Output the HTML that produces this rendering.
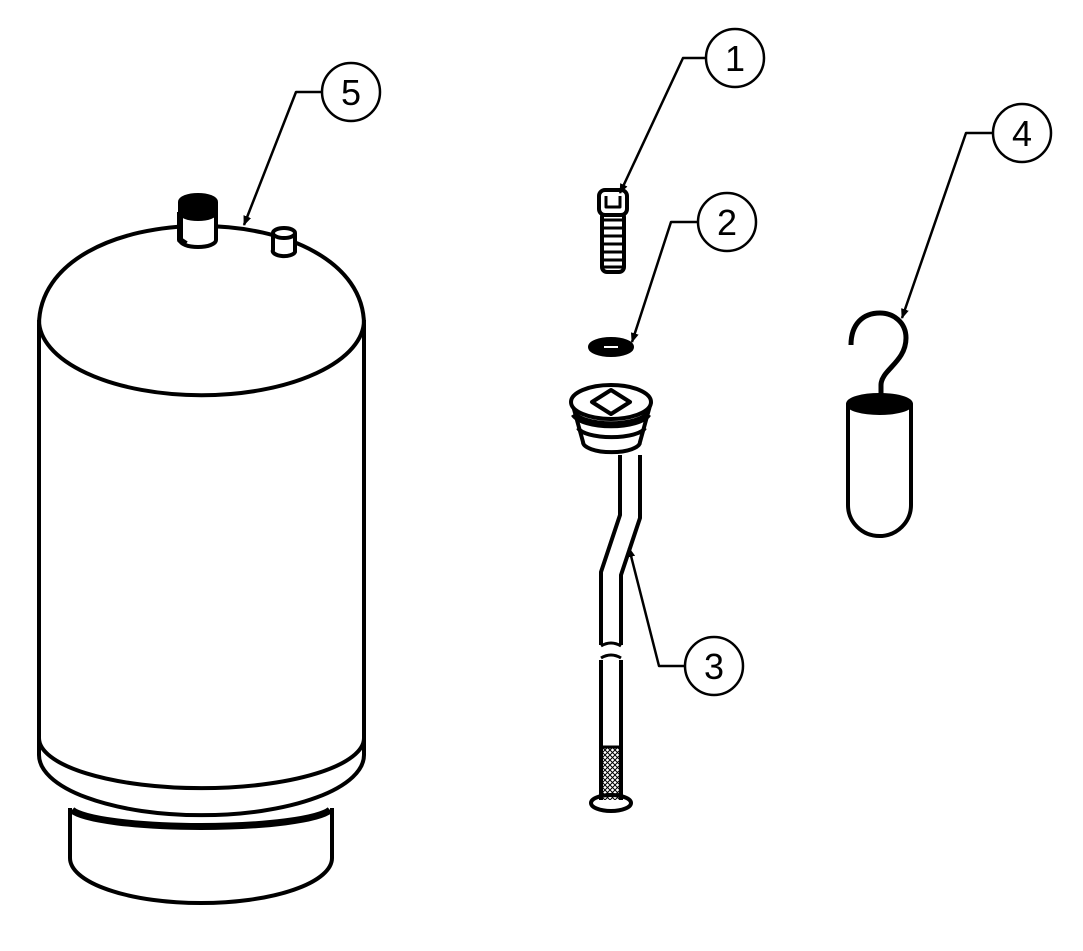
<!DOCTYPE html><html><head><style>body{margin:0;background:#fff}svg{display:block}</style></head><body>
<svg width="1083" height="951" viewBox="0 0 1083 951" xmlns="http://www.w3.org/2000/svg">
<defs>
<marker id="a" markerWidth="10" markerHeight="10" refX="9" refY="5" orient="auto" markerUnits="userSpaceOnUse"><path d="M0,1 L10,5 L0,9 Z" fill="#000"/></marker>
<pattern id="m" width="5" height="5" patternUnits="userSpaceOnUse"><path d="M0,0L5,5M5,0L0,5" stroke="#000" stroke-width="1"/></pattern>
</defs>
<g fill="none" stroke="#000" stroke-width="4" stroke-linejoin="round">
<!-- tank -->
<path d="M70,808 L70,858 A131,45 0 0 0 332,858 L332,808" fill="#fff"/>
<path d="M39,325 C39,262 115,226 201,226 C287,226 364,262 364,325 L364,755 A162,60 0 0 1 39,755 Z" fill="#fff"/>
<path d="M39,320 A162,75 0 0 0 364,320"/>
<path d="M39,738 A162,50 0 0 0 364,738"/>
<path d="M72,810 A131,20 0 0 0 330,810" stroke-width="7"/>
<!-- fittings -->
<path d="M180,202 L180,240 A18,7 0 0 0 216,240 L216,202" fill="#fff"/>
<path d="M180,202 A18,7 0 0 1 216,202 L216,212 A18,7 0 0 1 180,212 Z" fill="#000"/>
<path d="M180,212 L180,240 L186,244" stroke-width="6"/>
<path d="M273,233 L273,250 A11,5 0 0 0 295,252 L295,233" fill="#fff"/>
<ellipse cx="284" cy="233" rx="11" ry="5" fill="#fff"/>
<!-- screw -->
<rect x="602" y="212" width="22" height="60" rx="5" fill="#fff"/>
<g stroke="#000" stroke-width="3"><path d="M604,220h18M604,228h18M604,236h18M604,244h18M604,252h18M604,260h18M604,267h18"/></g>
<rect x="599" y="190" width="28" height="25" rx="6" fill="#fff"/>
<path d="M606,196 L606,207 L620,207 L620,196" stroke-width="3"/>
<!-- washer -->
<ellipse cx="611" cy="347" rx="21" ry="8" fill="#000"/>
<path d="M604,347h14" stroke="#fff" stroke-width="2"/>
<!-- plug -->
<path d="M572,402 L583,442 A28,10 0 0 0 640,442 L651,402" fill="#fff"/>
<ellipse cx="611" cy="402" rx="40" ry="17" fill="#fff"/>
<path d="M574,414 A38,14 0 0 0 648,414" stroke-width="7"/>
<path d="M578,428 A34,11 0 0 0 645,428"/>
<path d="M592,402 L611,390 L630,402 L611,414 Z"/>
<!-- tube -->
<path d="M620,455 L620,515 L601,572 L601,645 M640,455 L640,518 L621,575 L621,645"/>
<path d="M601,660 L601,800 M621,660 L621,800"/>
<path d="M601,646 Q611,640 621,646 M601,658 Q611,652 621,658" stroke-width="3"/>
<rect x="603" y="748" width="16" height="52" fill="url(#m)" stroke="none"/>
<path d="M601,747h20" stroke-width="3"/>
<ellipse cx="611" cy="803" rx="20" ry="8"/>
<!-- hook part -->
<path d="M848,404 L848,505 A31.5,31 0 0 0 911,505 L911,404" fill="#fff"/>
<ellipse cx="879.5" cy="404" rx="31.5" ry="9" fill="#000"/>
<path d="M881,400 L881,385 C881,370 906,362 906,338 C906,322 893,313 880,313 C863,313 851,324 851,345" stroke-width="5"/>
<!-- leaders -->
<g stroke-width="2.5">
<circle cx="351" cy="92" r="29" fill="#fff"/><path d="M322,92 L296,92 L244,225" marker-end="url(#a)"/>
<circle cx="735" cy="58" r="29" fill="#fff"/><path d="M706,58 L683,58 L620,193" marker-end="url(#a)"/>
<circle cx="727" cy="222" r="29" fill="#fff"/><path d="M698,222 L671,222 L632,342" marker-end="url(#a)"/>
<circle cx="714" cy="666" r="29" fill="#fff"/><path d="M685,666 L659,666 L629,548" marker-end="url(#a)"/>
<circle cx="1022" cy="133" r="29" fill="#fff"/><path d="M993,133 L966,133 L902,318" marker-end="url(#a)"/>
</g>
</g>
<g font-family="Liberation Sans, sans-serif" font-size="36" text-anchor="middle">
<text x="351" y="105">5</text><text x="735" y="71">1</text><text x="727" y="235">2</text><text x="714" y="679">3</text><text x="1022" y="146">4</text>
</g>
</svg>
</body></html>
